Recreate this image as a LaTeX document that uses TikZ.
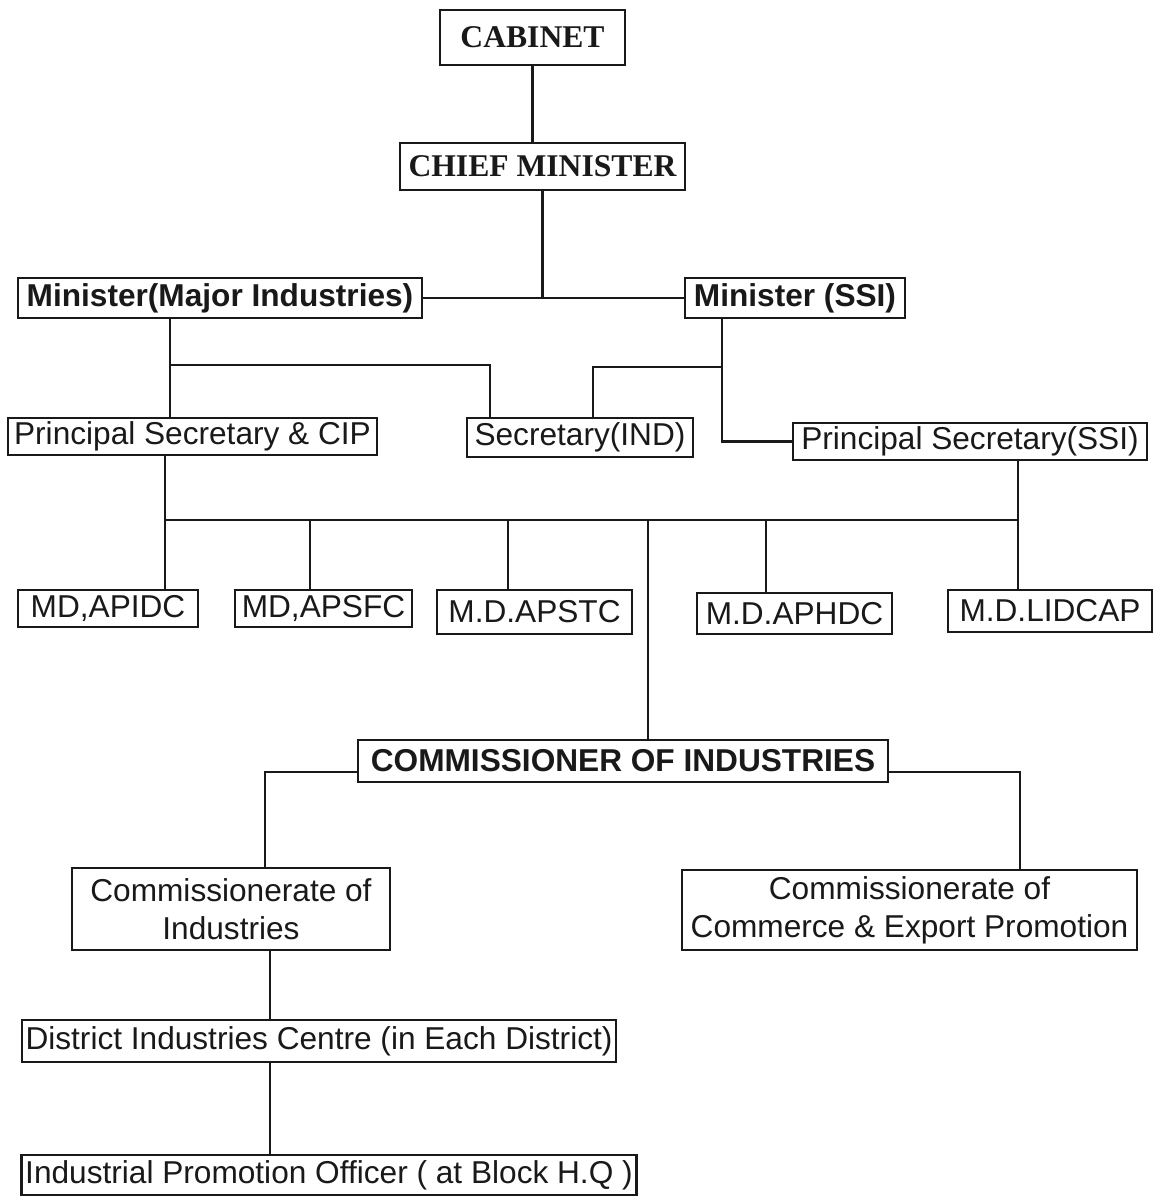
\documentclass[tikz,border=0pt]{standalone}
\usepackage{fontspec}
\setmainfont{Liberation Sans}
\newfontfamily\titlefont{Liberation Serif}
\tikzset{
  post/.style={draw,rectangle,line width=1.5pt,inner sep=2pt,align=center,
    font=\fontsize{18}{21.6}\selectfont},
  postbf/.style={post,font=\fontsize{18}{21.6}\selectfont\bfseries},
  posttop/.style={post,font=\fontsize{18}{21.6}\titlefont\bfseries},
  link/.style={line width=1.5pt}
}
\begin{document}
\begin{tikzpicture}[x=0.02cm,y=-0.02cm,text=black!90,draw=black!90]
    \useasboundingbox (0,0) rectangle (1161,1198);
    % Cabinet and Chief Minister
    \node[posttop,minimum width=3.7cm,minimum height=1.1cm] (cab) at (532.5,37.5) {CABINET};
    \node[posttop,minimum width=5.7cm,minimum height=0.94cm] (cm) at (542.5,166.5) {CHIEF MINISTER};

    % Ministers
    \node[postbf,minimum width=8.08cm,minimum height=0.8cm] (majmin) at (220,298) {Minister(Major Industries)};
    \node[postbf,minimum width=4.4cm,minimum height=0.8cm] (ssimin) at (795,298) {Minister (SSI)};

    % Secretaries
    \node[post,minimum width=7.38cm,minimum height=0.74cm] (pscip) at (192.5,436.5) {Principal Secretary \& CIP};
    \node[post,minimum width=4.52cm,minimum height=0.78cm] (secind) at (580,437.5) {Secretary(IND)};
    \node[post,minimum width=7.08cm,minimum height=0.74cm] (psssi) at (970,441.5) {Principal Secretary(SSI)};

    % Corporations
    \node[post,minimum width=3.6cm,minimum height=0.74cm] (apidc) at (108,608.5) {MD,APIDC};
    \node[post,minimum width=3.54cm,minimum height=0.74cm] (apsfc) at (323.5,608.5) {MD,APSFC};
    \node[post,minimum width=3.9cm,minimum height=0.88cm] (apstc) at (534.5,612) {M.D.APSTC};
    \node[post,minimum width=3.9cm,minimum height=0.82cm] (aphdc) at (794.5,613.5) {M.D.APHDC};
    \node[post,minimum width=4.08cm,minimum height=0.84cm] (lidcap) at (1050,611) {M.D.LIDCAP};

    % Commissioner and below
    \node[postbf,minimum width=10.6cm,minimum height=0.84cm] (coi) at (623,761) {COMMISSIONER OF INDUSTRIES};
    \node[post,minimum width=6.36cm,minimum height=1.64cm] (ciind) at (231,909) {Commissionerate of\\Industries};
    \node[post,minimum width=9.1cm,minimum height=1.6cm] (ccep) at (909.5,910) {Commissionerate of\\Commerce \& Export Promotion};
    \node[post,minimum width=11.76cm,minimum height=0.84cm] (dic) at (319,1041) {District Industries Centre (in Each District)};
    \node[post,minimum width=12.16cm,minimum height=0.8cm] (ipo) at (329,1175) {Industrial Promotion Officer ( at Block H.Q )};

    % Junction points
    \coordinate (jl) at (170,365);
    \coordinate (jl2) at (490,365);
    \coordinate (jr) at (722,367);
    \coordinate (jr2) at (593,367);
    \coordinate (busl) at (165,520);
    \coordinate (busr) at (1018,520);
    \coordinate (cl) at (265,772);
    \coordinate (cr) at (1020,772);
    \coordinate (lowx) at (270,1000);

    % Upper links
    \draw[link] (cab.south) -- (cab.south |- cm.north);
    \draw[link] (cm.south) -- (cm.south |- majmin.east);
    \draw[link] (majmin.east) -- (ssimin.west);
    \draw[link] (majmin.south -| jl) -- (pscip.north -| jl);
    \draw[link] (jl) -- (jl2) -- (jl2 |- secind.north);
    \draw[link] (ssimin.south -| jr) -- (jr) -- (jr |- psssi.west) -- (psssi.west);
    \draw[link] (jr) -- (jr2) -- (jr2 |- secind.north);

    % Bus to corporations
    \draw[link] (pscip.south -| busl) -- (busl) -- (busr) -- (psssi.south -| busr);
    \foreach \n/\x in {apidc/165,apsfc/310,apstc/508,coi/648,aphdc/766,lidcap/1018}{
      \coordinate (top-\n) at (\x,520);
      \draw[link] (top-\n) -- (top-\n |- \n.north);
    }

    % Lower links
    \draw[link] (coi.west |- cl) -- (cl) -- (cl |- ciind.north);
    \draw[link] (coi.east |- cr) -- (cr) -- (cr |- ccep.north);
    \draw[link] (ciind.south -| lowx) -- (dic.north -| lowx);
    \draw[link] (dic.south -| lowx) -- (ipo.north -| lowx);
\end{tikzpicture}
\end{document}
